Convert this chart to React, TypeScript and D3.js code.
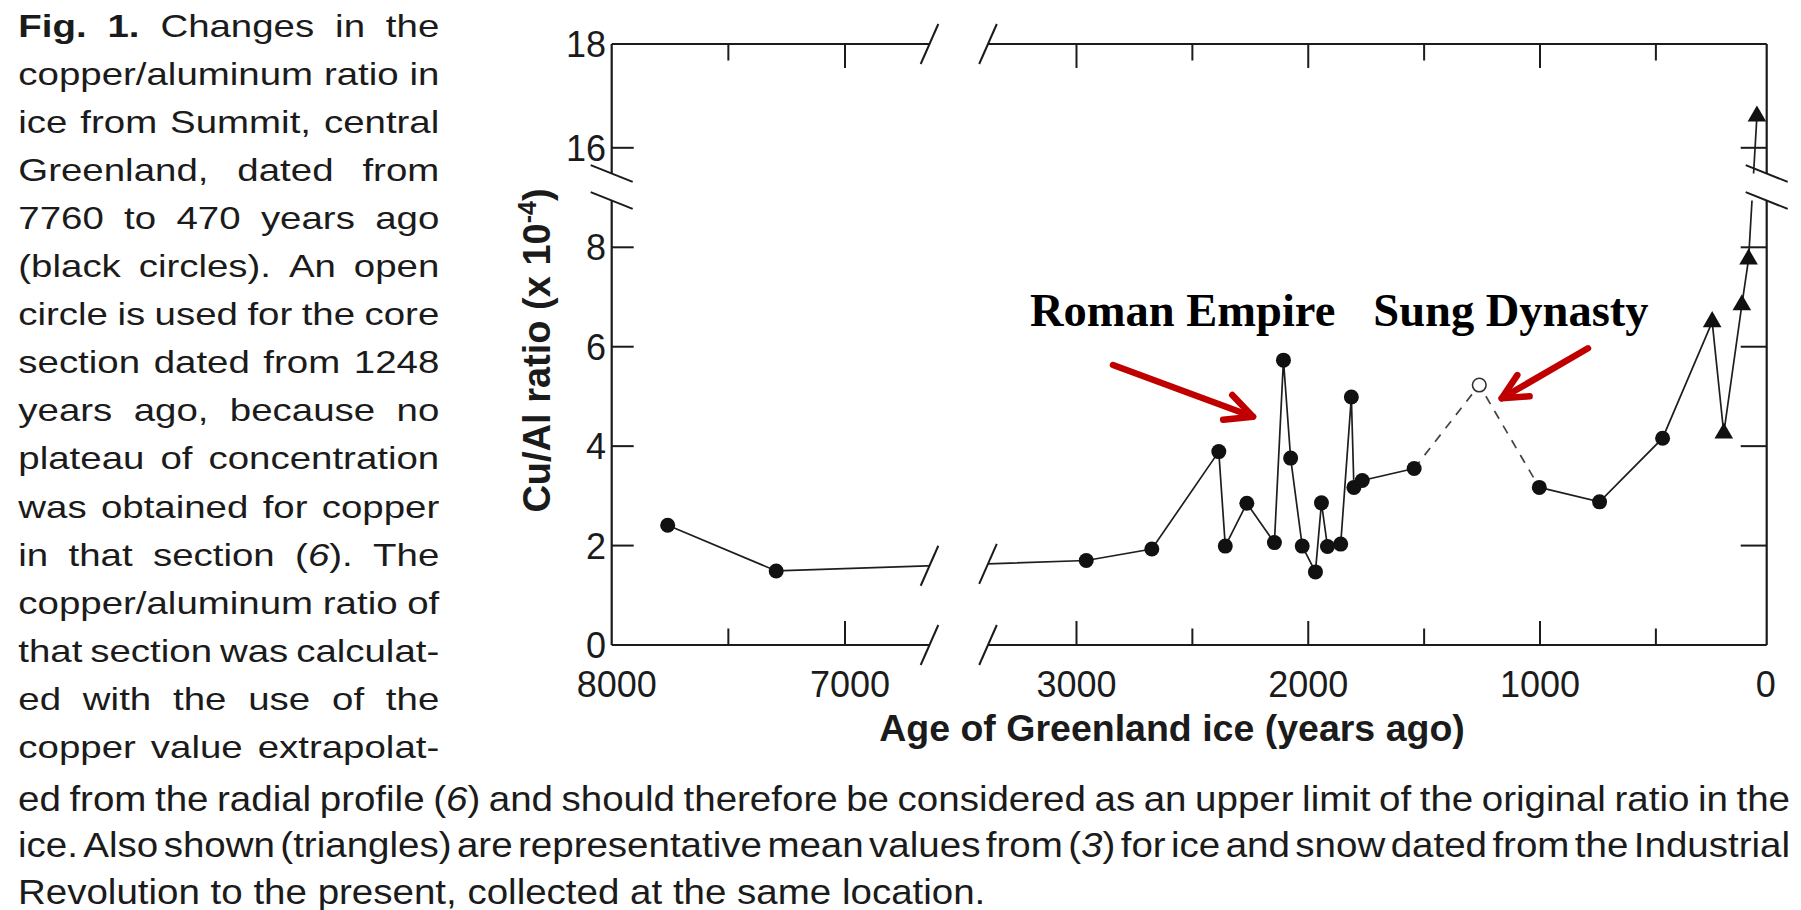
import React, { useMemo } from 'react';
import * as d3 from 'd3';

// ---------------- data ----------------
const earlyYears = [7760, 7295];
const earlyRatios = [2.41, 1.49];
const midYears = [2958, 2675, 2386, 2358, 2265, 2146, 2107, 2076, 2026, 1969, 1943, 1917, 1860, 1814, 1803, 1767, 1543];
const midRatios = [1.70, 1.93, 3.89, 1.99, 2.85, 2.06, 5.73, 3.76, 1.99, 1.47, 2.86, 1.98, 2.03, 4.99, 3.17, 3.31, 3.55];
const openYears = [1262];
const openRatios = [5.23];
const lateYears = [1003, 743, 471];
const lateRatios = [3.17, 2.88, 4.16];
const triYears = [257, 207, 129, 100, 64];
const triRatios = [6.50, 4.26, 6.84, 7.76, 16.61];

const xTicksLeft = [7500, 7000];
const xTicksRight = [3000, 2500, 2000, 1500, 1000, 500];
const xLabelsLeft = [8000, 7000];
const xLabelsRight = [3000, 2000, 1000, 0];
const yTicksLow = [2, 4, 6, 8];
const yTicksHigh = [16];
const yLabelsLow = [0, 2, 4, 6, 8];
const yLabelsHigh = [16, 18];

const leftCaption = [
  '*Fig. 1.* Changes in the',
  'copper/aluminum ratio in',
  'ice from Summit, central',
  'Greenland, dated from',
  '7760 to 470 years ago',
  '(black circles). An open',
  'circle is used for the core',
  'section dated from 1248',
  'years ago, because no',
  'plateau of concentration',
  'was obtained for copper',
  'in that section (_6_). The',
  'copper/aluminum ratio of',
  'that section was calculat-',
  'ed with the use of the',
  'copper value extrapolat-',
];
const bottomCaption = [
  'ed from the radial profile (_6_) and should therefore be considered as an upper limit of the original ratio in the',
  'ice. Also shown (triangles) are representative mean values from (_3_) for ice and snow dated from the Industrial',
  'Revolution to the present, collected at the same location.',
];

// ---------------- layout ----------------
const W = 1801, H = 910;
const L = 611.7, R = 1766.7, T = 44, B = 645;
const X_BREAK_A = 929.5, X_BREAK_B = 988;
const Y_BREAK_A = 173.5, Y_BREAK_B = 200.5;
const SANS = "'Liberation Sans', Arial, Helvetica, sans-serif";
const SERIF = "'Liberation Serif', 'Times New Roman', serif";
const INK = '#1b1b1b';
const RED = '#c00000';

const xLeft = d3.scaleLinear().domain([8000, 7000]).range([L, 845]);
const xRight = d3.scaleLinear().domain([3000, 1000]).range([1076.5, 1540]);
const yLow = d3.scaleLinear().domain([0, 8]).range([B, 247.3]);
const yHigh = d3.scaleLinear().domain([16, 18]).range([147.8, T]);
const px = (yr: number) => (yr > 5000 ? xLeft(yr) : xRight(yr));
const py = (v: number) => (v > 12 ? yHigh(v) : yLow(v));

type Run = { text: string; bold: boolean; italic: boolean };
function parseLine(line: string): Run[][] {
  const words: Run[][] = [];
  let cur: Run[] = [];
  let bold = false, italic = false, buf = '';
  const flush = () => { if (buf) { cur.push({ text: buf, bold, italic }); buf = ''; } };
  for (const ch of line) {
    if (ch === '*') { flush(); bold = !bold; }
    else if (ch === '_') { flush(); italic = !italic; }
    else if (ch === ' ') { flush(); if (cur.length) words.push(cur); cur = []; }
    else buf += ch;
  }
  flush();
  if (cur.length) words.push(cur);
  return words;
}
let ctx: CanvasRenderingContext2D | null = null;
function measure(text: string, size: number, bold: boolean, italic: boolean) {
  if (!ctx) ctx = document.createElement('canvas').getContext('2d');
  if (!ctx) return text.length * size * 0.5;
  ctx.font = `${italic ? 'italic ' : ''}${bold ? 'bold ' : ''}${size}px ${SANS}`;
  return ctx.measureText(text).width;
}

type Placed = { x: number; y: number; runs: Run[] };
function layoutLines(lines: string[], x0: number, width: number, y0: number, pitch: number,
  size: number, sx: number, justifyLast: boolean): { words: Placed[]; sx: number; size: number } {
  const out: Placed[] = [];
  lines.forEach((line, i) => {
    const words = parseLine(line);
    const widths = words.map(w => w.reduce((s, r) => s + measure(r.text, size, r.bold, r.italic), 0) * sx);
    const total = widths.reduce((a, b) => a + b, 0);
    const justify = i < lines.length - 1 || justifyLast;
    const gap = justify && words.length > 1 ? (width - total) / (words.length - 1) : measure(' ', size, false, false) * sx;
    let x = x0;
    words.forEach((w, j) => { out.push({ x, y: y0 + i * pitch, runs: w }); x += widths[j] + gap; });
  });
  return { words: out, sx, size };
}

function Caption({ block }: { block: { words: Placed[]; sx: number; size: number } }) {
  return (
    <g fill={INK} fontFamily={SANS} fontSize={block.size}>
      {block.words.map((w, i) => (
        <text key={i} transform={`translate(${w.x},${w.y}) scale(${block.sx},1)`}>
          {w.runs.map((r, k) => (
            <tspan key={k} fontWeight={r.bold ? 'bold' : 'normal'} fontStyle={r.italic ? 'italic' : 'normal'}>{r.text}</tspan>
          ))}
        </text>
      ))}
    </g>
  );
}

function Arrow({ x1, y1, x2, y2, head, spread }: { x1: number; y1: number; x2: number; y2: number; head: number; spread: number }) {
  const a = Math.atan2(y1 - y2, x1 - x2);
  const s = (spread * Math.PI) / 180;
  const h1 = [x2 + head * Math.cos(a + s), y2 + head * Math.sin(a + s)];
  const h2 = [x2 + head * Math.cos(a - s), y2 + head * Math.sin(a - s)];
  return (
    <g stroke={RED} strokeWidth={6.5} fill="none" strokeLinecap="round" strokeLinejoin="round">
      <line x1={x1} y1={y1} x2={x2} y2={y2} />
      <polyline points={`${h1[0]},${h1[1]} ${x2},${y2} ${h2[0]},${h2[1]}`} />
    </g>
  );
}

export default function App() {
  const early = earlyYears.map((y, i) => [px(y), py(earlyRatios[i])] as [number, number]);
  const mid = midYears.map((y, i) => [px(y), py(midRatios[i])] as [number, number]);
  const open = openYears.map((y, i) => [px(y), py(openRatios[i])] as [number, number]);
  const late = lateYears.map((y, i) => [px(y), py(lateRatios[i])] as [number, number]);
  const tri = triYears.map((y, i) => [px(y), py(triRatios[i])] as [number, number]);

  const line = d3.line<[number, number]>();
  const solid1 = line([...early, ...mid]);
  const dashed = line([mid[mid.length - 1], ...open, late[0]]);
  const solid2 = line([...late, ...tri]);

  // y of the connector at the x-break slashes
  const a = early[early.length - 1], b = mid[0];
  const yAt = (x: number) => a[1] + ((x - a[0]) / (b[0] - a[0])) * (b[1] - a[1]);

  const triPath = d3.symbol(d3.symbolTriangle, 150)() || '';

  const leftBlock = useMemo(() => layoutLines(leftCaption, 18.3, 421, 36.5, 48.1, 31, 1.24, true), []);
  const bottomBlock = useMemo(() => layoutLines(bottomCaption, 18, 1772, 810.5, 46.5, 35, 1.1, false), []);

  const xSlash = (x: number, y: number) => (
    <line x1={x - 8.8} y1={y + 20} x2={x + 8.8} y2={y - 20} />
  );
  const ySlash = (x: number, y: number) => (
    <line x1={x - 21} y1={y - 8.4} x2={x + 21} y2={y + 8.4} />
  );

  return (
    <svg width={W} height={H} style={{ position: 'absolute', left: 0, top: 0, display: 'block', background: '#fff' }}>
      <rect width={W} height={H} fill="#fff" />
      <Caption block={leftBlock} />
      <Caption block={bottomBlock} />

      {/* frame */}
      <g stroke={INK} strokeWidth={2.2} fill="none">
        <line x1={L} y1={T} x2={R} y2={T} />
        <line x1={L} y1={B} x2={R} y2={B} />
        <line x1={L} y1={T} x2={L} y2={B} />
        <line x1={R} y1={T} x2={R} y2={B} />
      </g>

      {/* ticks */}
      <g stroke={INK} strokeWidth={2}>
        {[...xTicksLeft.map(v => [xLeft(v), v]), ...xTicksRight.map(v => [xRight(v), v])].map(([x, v], i) => {
          const len = v % 1000 === 0 ? 24 : 16.5;
          return (
            <g key={i}>
              <line x1={x} y1={B} x2={x} y2={B - len} />
              <line x1={x} y1={T} x2={x} y2={T + len} />
            </g>
          );
        })}
        {[...yTicksLow.map(v => yLow(v)), ...yTicksHigh.map(v => yHigh(v))].map((y, i) => (
          <g key={i}>
            <line x1={L} y1={y} x2={L + 22} y2={y} />
            <line x1={R} y1={y} x2={R - 26} y2={y} />
          </g>
        ))}
      </g>

      {/* data lines */}
      <g fill="none" stroke="#1e1e1e" strokeWidth={1.7}>
        <path d={solid1 || ''} />
        <path d={solid2 || ''} />
        <path d={dashed || ''} stroke="#444" strokeDasharray="9,8" />
      </g>

      {/* break gaps */}
      <rect x={X_BREAK_A} y={20} width={X_BREAK_B - X_BREAK_A} height={660} fill="#fff" />
      <rect x={L - 6} y={Y_BREAK_A} width={R - L + 12} height={Y_BREAK_B - Y_BREAK_A} fill="#fff" />
      <g stroke={INK} strokeWidth={2}>
        {[X_BREAK_A, X_BREAK_B].map((x, i) => (
          <g key={i}>
            {xSlash(x, T)}
            {xSlash(x, B)}
            {xSlash(x, yAt(x))}
          </g>
        ))}
        {[Y_BREAK_A, Y_BREAK_B].map((y, i) => (
          <g key={i}>
            {ySlash(L, y)}
            {ySlash(R, y)}
          </g>
        ))}
      </g>

      {/* markers */}
      <g fill="#111">
        {[...early, ...mid, ...late].map((p, i) => (
          <circle key={i} cx={p[0]} cy={p[1]} r={7.5} />
        ))}
        {open.map((p, i) => (
          <circle key={i} cx={p[0]} cy={p[1]} r={6.8} fill="#fff" stroke="#333" strokeWidth={1.6} />
        ))}
        {tri.map((p, i) => (
          <path key={i} d={triPath} transform={`translate(${p[0]},${p[1]})`} />
        ))}
      </g>

      {/* tick labels */}
      <g fill={INK} fontFamily={SANS} fontSize={36}>
        {yLabelsLow.map(v => (
          <text key={'yl' + v} x={606} y={yLow(v)} dy="0.36em" textAnchor="end">{v}</text>
        ))}
        {yLabelsHigh.map(v => (
          <text key={'yh' + v} x={606} y={yHigh(v)} dy="0.36em" textAnchor="end">{v}</text>
        ))}
        {xLabelsLeft.map(v => (
          <text key={'xl' + v} x={xLeft(v) + 5} y={697} textAnchor="middle">{v}</text>
        ))}
        {xLabelsRight.map(v => (
          <text key={'xr' + v} x={Math.min(xRight(v), R - 1)} y={697} textAnchor="middle">{v}</text>
        ))}
      </g>

      {/* axis titles */}
      <text x={1172} y={741} textAnchor="middle" fontFamily={SANS} fontWeight="bold" fontSize={37.5} fill={INK}>
        Age of Greenland ice (years ago)
      </text>
      <text transform="translate(549.5,350.5) rotate(-90)" textAnchor="middle" fontFamily={SANS} fontWeight="bold" fontSize={38} fill={INK}>
        Cu/Al ratio (x 10<tspan dy={-14} fontSize={25}>-4</tspan><tspan dy={14}>)</tspan>
      </text>

      {/* annotations */}
      <g fontFamily={SERIF} fontWeight="bold" fontSize={46.5} fill="#000">
        <text x={1030} y={326}>Roman Empire</text>
        <text x={1373.3} y={326}>Sung Dynasty</text>
      </g>
      <Arrow x1={1113} y1={365} x2={1253} y2={416.7} head={30} spread={26} />
      <Arrow x1={1588} y1={348.3} x2={1501.7} y2={398.3} head={28} spread={26} />
    </svg>
  );
}
